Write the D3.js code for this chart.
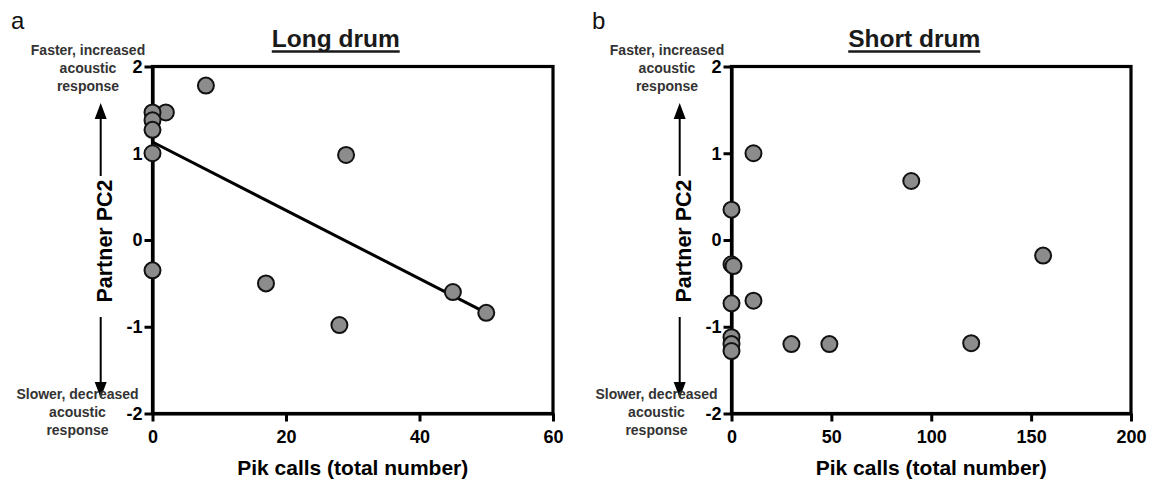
<!DOCTYPE html>
<html>
<head>
<meta charset="utf-8">
<script src="https://cdn.jsdelivr.net/npm/d3@7"></script>
<style>
  html, body { margin: 0; padding: 0; background: #fff; }
  svg { display: block; font-family: "Liberation Sans", Arial, sans-serif; }
</style>
</head>
<body>
<svg id="chart" width="1153" height="482"></svg>
<script>
// ---- Data ----
const longX = [8, 2, 0, 0, 0, 0, 0, 29, 17, 28, 45, 50];
const longY = [1.78, 1.47, 1.47, 1.38, 1.27, 1.0, -0.35, 0.98, -0.5, -0.98, -0.6, -0.84];
const longTrendX = [0, 50];
const longTrendY = [1.13, -0.84];

const shortX = [11, 0, 0, 1, 0, 11, 0, 0, 0, 30, 49, 90, 120, 156];
const shortY = [1.0, 0.35, -0.28, -0.3, -0.73, -0.7, -1.12, -1.2, -1.28, -1.2, -1.2, 0.68, -1.19, -0.18];

const longXTicks = [0, 20, 40, 60];
const shortXTicks = [0, 50, 100, 150, 200];
const yTicks = [-2, -1, 0, 1, 2];

const titles = ["Long drum", "Short drum"];
const panelLetters = ["a", "b"];
const xTitle = "Pik calls (total number)";
const yTitle = "Partner PC2";
const upperNote = ["Faster, increased", "acoustic", "response"];
const lowerNote = ["Slower, decreased", "acoustic", "response"];

// ---- Layout ----
const svg = d3.select("#chart");
const plotTop = 66.5, plotBottom = 413.5;
const fmt = d => String(d);

const panels = [
  { x0: 152.5, x1: 553, xDomain: [0, 60], xTicks: longXTicks, xs: longX, ys: longY,
    trend: { x: longTrendX, y: longTrendY }, title: titles[0], letter: panelLetters[0], letterX: 11 },
  { x0: 731.5, x1: 1131, xDomain: [0, 200], xTicks: shortXTicks, xs: shortX, ys: shortY,
    trend: null, title: titles[1], letter: panelLetters[1], letterX: 592 }
];

panels.forEach(p => {
  const x = d3.scaleLinear().domain(p.xDomain).range([p.x0, p.x1]);
  const y = d3.scaleLinear().domain([-2, 2]).range([plotBottom, plotTop]);
  const g = svg.append("g");

  // frame (top and right)
  g.append("rect")
    .attr("x", p.x0).attr("y", plotTop)
    .attr("width", p.x1 - p.x0).attr("height", plotBottom - plotTop)
    .attr("fill", "none").attr("stroke", "#000").attr("stroke-width", 3.2);

  // x axis
  const xa = g.append("g").attr("transform", `translate(0,${plotBottom})`)
    .call(d3.axisBottom(x).tickValues(p.xTicks).tickSize(8).tickPadding(8.5).tickSizeOuter(0).tickFormat(fmt));
  xa.select(".domain").attr("stroke-width", 3.2);
  xa.selectAll(".tick line").attr("stroke-width", 3);
  xa.selectAll("text").attr("font-size", 18).attr("font-weight", "bold").attr("fill", "#000");

  // y axis
  const ya = g.append("g").attr("transform", `translate(${p.x0},0)`)
    .call(d3.axisLeft(y).tickValues(yTicks).tickSize(8).tickPadding(2).tickSizeOuter(0).tickFormat(fmt));
  ya.select(".domain").attr("stroke-width", 3.2);
  ya.selectAll(".tick line").attr("stroke-width", 3);
  ya.selectAll("text").attr("font-size", 18).attr("font-weight", "bold").attr("fill", "#000");

  // trend line
  if (p.trend) {
    const pts = p.trend.x.map((d, i) => [x(d), y(p.trend.y[i])]);
    g.append("path").attr("d", d3.line()(pts))
      .attr("fill", "none").attr("stroke", "#000").attr("stroke-width", 3);
  }

  // points
  g.selectAll("circle.pt").data(p.xs.map((d, i) => [d, p.ys[i]])).enter()
    .append("circle").attr("class", "pt")
    .attr("cx", d => x(d[0])).attr("cy", d => y(d[1]))
    .attr("r", 8)
    .attr("fill", "#8c8c8c").attr("stroke", "#111").attr("stroke-width", 2);

  // title with underline
  const cx = (p.x0 + p.x1) / 2 - 17;
  const t = g.append("text").attr("x", cx).attr("y", 46.5)
    .attr("text-anchor", "middle").attr("font-size", 24.5).attr("font-weight", "bold")
    .attr("fill", "#1a1a1a").text(p.title);
  const tw = t.node().getComputedTextLength();
  g.append("line").attr("x1", cx - tw / 2).attr("x2", cx + tw / 2)
    .attr("y1", 51.5).attr("y2", 51.5).attr("stroke", "#1a1a1a").attr("stroke-width", 2.5);

  // x title
  g.append("text").attr("x", (p.x0 + p.x1) / 2).attr("y", 475)
    .attr("text-anchor", "middle").attr("font-size", 21).attr("font-weight", "bold")
    .attr("fill", "#000").text(xTitle);

  // y title
  g.append("text").attr("transform", `translate(${p.x0 - 40.5},241) rotate(-90)`)
    .attr("text-anchor", "middle").attr("font-size", 21.5).attr("font-weight", "bold")
    .attr("fill", "#000").text(yTitle);

  // arrows
  const ax = p.x0 - 51.8;
  g.append("line").attr("x1", ax).attr("x2", ax).attr("y1", 176).attr("y2", 116)
    .attr("stroke", "#000").attr("stroke-width", 2);
  g.append("path").attr("d", `M${ax - 6},119 L${ax + 6},119 L${ax},103 Z`).attr("fill", "#000");
  g.append("line").attr("x1", ax).attr("x2", ax).attr("y1", 317).attr("y2", 385)
    .attr("stroke", "#000").attr("stroke-width", 2);
  g.append("path").attr("d", `M${ax - 6},382 L${ax + 6},382 L${ax},398 Z`).attr("fill", "#000");

  // notes
  const nUp = g.append("text").attr("text-anchor", "middle").attr("font-size", 14)
    .attr("font-weight", "bold").attr("fill", "#333");
  upperNote.forEach((s, i) => nUp.append("tspan").attr("x", p.x0 - 64.5).attr("y", 55 + i * 18).text(s));
  const nLo = g.append("text").attr("text-anchor", "middle").attr("font-size", 14)
    .attr("font-weight", "bold").attr("fill", "#333");
  lowerNote.forEach((s, i) => nLo.append("tspan").attr("x", p.x0 - 75).attr("y", 399 + i * 18).text(s));

  // panel letter
  svg.append("text").attr("x", p.letterX).attr("y", 28.5).attr("font-size", 24)
    .attr("fill", "#111").text(p.letter);
});
</script>
</body>
</html>
